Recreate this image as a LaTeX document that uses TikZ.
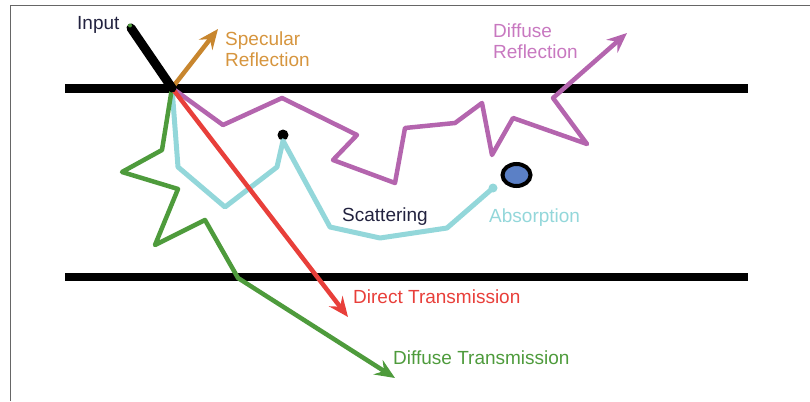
\documentclass[tikz,border=0pt]{standalone}
\usepackage{fontspec}
\setmainfont{Liberation Sans}
\usetikzlibrary{arrows.meta,shapes.geometric}
\definecolor{cpurple}{HTML}{B465AE}
\definecolor{cpurpletxt}{HTML}{C878C0}
\definecolor{ccyan}{HTML}{93D7DA}
\definecolor{cgreen}{HTML}{4E9B3C}
\definecolor{cred}{HTML}{E83F3A}
\definecolor{corange}{HTML}{C8862E}
\definecolor{corangetxt}{HTML}{D6953E}
\definecolor{cdark}{HTML}{22223F}
\definecolor{cblue}{HTML}{5B80C6}
\definecolor{cframe}{HTML}{666666}
\begin{document}
\begin{tikzpicture}[x=1pt,y=-1pt,
  ray/.style={line width=4.5pt, line join=round, line cap=round},
  tipped/.style={-{Stealth[length=20pt,width=17pt,inset=7pt]}},
  lab/.style={font=\fontsize{19}{21}\selectfont, anchor=west, inner sep=0pt, align=left},
  slab/.style={line width=9pt, black}]
\useasboundingbox (0,0) rectangle (810,401);
% frame
\draw[cframe, line width=1.5pt] (10.5,401) -- (10.5,5.5) -- (810,5.5);
% slab boundaries
\coordinate (t1) at (65,88.5);
\coordinate (t2) at (748,88.5);
\coordinate (b1) at (65,276.5);
\coordinate (b2) at (748,276.5);
\draw[slab] (t1) -- (t2);
\draw[slab, line width=8pt] (b1) -- (b2);
% entry point
\coordinate (O) at (172,88);
\coordinate (in) at (131,28);
% purple diffuse reflection
\coordinate (pend) at (627,33);
\draw[ray, cpurple, tipped] (O) -- (223,125) -- (282,98) -- (357,135) -- (333,160)
  -- (395,183) -- (405,128) -- (455,123) -- (482,103) -- (492,155) -- (513,118)
  -- (587,144) -- (553,98) -- (pend);
% cyan absorption
\node[circle, fill=black, inner sep=0pt, minimum size=11pt] (scat) at (283,135) {};
\coordinate (cend) at (493,188);
\draw[ray, ccyan, line width=5pt] (O) -- (178,167) -- (225,207) -- (277,167) -- (scat.south)
  -- (330,227) -- (380,238) -- (447,228) -- (cend);
\fill[ccyan] (cend) circle (4.5pt);
\node[ellipse, draw=black, line width=4pt, fill=cblue, minimum width=28pt, minimum height=22pt, inner sep=0pt] (absorb) at (516.5,175) {};
% green diffuse transmission
\coordinate (gend) at (395,378);
\draw[ray, cgreen, tipped] (O) -- (162,150) -- (122,172) -- (178,189) -- (155,245)
  -- (205,220) -- (238,278) -- (gend);
% red direct transmission
\coordinate (rend) at (348,317);
\draw[ray, cred, tipped] (O) -- (rend);
% orange specular reflection
\coordinate (send) at (218,29);
\draw[ray, corange, tipped] (O) -- (send);
% input
\draw[line width=9pt, line cap=round, black] (in) -- (O);
\fill[cgreen] (130,25.5) circle (2pt);
% labels
\node[lab, text=cdark] (linput) at (77,25) {Input};
\node[lab, text=corangetxt, anchor=north west] (lspec) at (225,32) {Specular\\Reflection};
\node[lab, text=cpurpletxt, anchor=north west] (ldiff) at (493,24) {Diffuse\\Reflection};
\node[lab, text=cdark] (lscat) at (342,217) {Scattering};
\node[lab, text=ccyan] (labs) at (489,218) {Absorption};
\node[lab, text=cred] (ldir) at (353,297) {Direct Transmission};
\node[lab, text=cgreen] (ldt) at (393,358) {Diffuse Transmission};
\end{tikzpicture}
\end{document}
